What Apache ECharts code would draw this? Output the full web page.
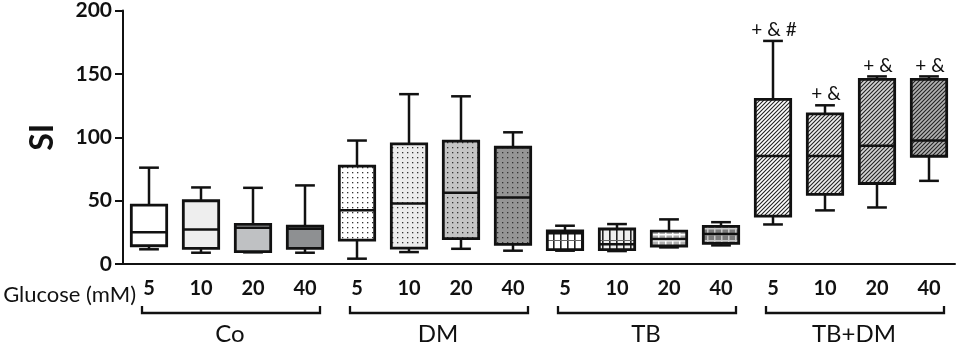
<!DOCTYPE html>
<html>
<head>
<meta charset="utf-8">
<script src="https://cdn.jsdelivr.net/npm/echarts@6/dist/echarts.min.js"></script>
<style>
  html, body { margin: 0; padding: 0; background: #fff; }
  #main { width: 957px; height: 345px; }
</style>
</head>
<body>
<div id="main"></div>
<script>
// glucose concentrations (mM), four per group
const categories = ['5', '10', '20', '40', '5', '10', '20', '40', '5', '10', '20', '40', '5', '10', '20', '40'];
const groups = ['Co', 'DM', 'TB', 'TB+DM'];
const yTicks = [0, 50, 100, 150, 200];

// each box: [low, q1, median, q3, high]
const coBoxes = [
  [11.6, 14.4, 25.0, 46.5, 76.0],
  [8.9, 12.3, 27.3, 49.9, 60.4],
  [9.2, 9.7, 28.6, 31.2, 60.1],
  [8.9, 12.3, 27.8, 29.9, 62.0]
];
const dmBoxes = [
  [4.2, 18.9, 42.5, 77.2, 97.4],
  [9.4, 12.6, 47.8, 94.7, 134.0],
  [12.0, 20.0, 56.2, 96.9, 132.3],
  [10.5, 15.5, 52.5, 92.1, 103.9]
];
const tbBoxes = [
  [10.5, 11.3, 24.2, 26.2, 30.2],
  [10.2, 11.3, 15.5, 27.6, 31.5],
  [13.1, 14.2, 19.7, 26.0, 35.2],
  [14.7, 16.3, 23.6, 29.7, 33.0]
];
const tbdmBoxes = [
  [31.2, 37.8, 85.3, 129.9, 176.0],
  [42.3, 54.9, 85.3, 118.4, 125.2],
  [44.6, 63.5, 93.2, 145.7, 148.0],
  [65.6, 85.0, 97.4, 145.7, 148.0]
];
// significance marks above each box
const marks = ['', '', '', '', '', '', '', '', '', '', '', '', '+ & #', '+ &', '+ &', '+ &'];

const FONT = 'Lato';
const INK = '#111';

// fill patterns
function tile(w, h, draw) {
  const c = document.createElement('canvas');
  c.width = w; c.height = h;
  draw(c.getContext('2d'), w, h);
  return { image: c, repeat: 'repeat' };
}
function solid(bg) { return bg; }
function dots(bg) {
  return tile(5, 5, (g, w, h) => {
    g.fillStyle = bg; g.fillRect(0, 0, w, h);
    g.fillStyle = '#333'; g.fillRect(2, 2, 1.3, 1.3);
  });
}
function vlines(bg) {
  return tile(7, 16, (g, w, h) => {
    g.fillStyle = bg; g.fillRect(0, 0, w, h);
    g.fillStyle = '#222'; g.fillRect(0, 0, 1.6, h);
    g.fillStyle = '#666'; g.fillRect(0, 0, w, 1);
  });
}
function grid(bg, line) {
  return tile(7, 6, (g, w, h) => {
    g.fillStyle = line; g.fillRect(0, 0, w, h);
    g.fillStyle = bg; g.fillRect(1.5, 1.5, w - 1.5, h - 1.5);
  });
}
function hatch(bg) {
  return tile(4, 4, (g, w, h) => {
    g.fillStyle = bg; g.fillRect(0, 0, w, h);
    g.strokeStyle = '#222'; g.lineWidth = 1.1;
    g.beginPath();
    g.moveTo(-1, h + 1); g.lineTo(w + 1, -1);
    g.moveTo(-1, 1); g.lineTo(1, -1);
    g.moveTo(w - 1, h + 1); g.lineTo(w + 1, h - 1);
    g.stroke();
  });
}
const boxFills = [
  solid('#ffffff'), solid('#eeeeee'), solid('#bfc1c3'), solid('#8e9092'),
  dots('#ffffff'), dots('#ececec'), dots('#c4c4c4'), dots('#959595'),
  vlines('#ffffff'), vlines('#eeeeee'), grid('#b0b0b0', '#ffffff'), grid('#7a7a7a', '#c8c8c8'),
  hatch('#ffffff'), hatch('#eeeeee'), hatch('#d4d4d4'), hatch('#b2b2b2')
];

const boxes = [...coBoxes, ...dmBoxes, ...tbBoxes, ...tbdmBoxes].map((b, i) => [i, ...b]);

function renderBox(params, api) {
  const i = api.value(0);
  const low = api.coord([i, api.value(1)]);
  const q1 = api.coord([i, api.value(2)]);
  const med = api.coord([i, api.value(3)]);
  const q3 = api.coord([i, api.value(4)]);
  const high = api.coord([i, api.value(5)]);
  const band = api.size([1, 0])[0];
  const bw = band * 0.68, cw = band * 0.38;
  const cx = low[0];
  const ln = { stroke: INK, lineWidth: 2.5 };
  const children = [
    { type: 'line', shape: { x1: cx, y1: high[1], x2: cx, y2: q3[1] }, style: ln },
    { type: 'line', shape: { x1: cx, y1: q1[1], x2: cx, y2: low[1] }, style: ln },
    { type: 'line', shape: { x1: cx - cw / 2, y1: high[1], x2: cx + cw / 2, y2: high[1] }, style: ln },
    { type: 'line', shape: { x1: cx - cw / 2, y1: low[1], x2: cx + cw / 2, y2: low[1] }, style: ln },
    {
      type: 'rect',
      shape: { x: cx - bw / 2, y: q3[1], width: bw, height: q1[1] - q3[1] },
      style: { fill: boxFills[params.dataIndex], stroke: INK, lineWidth: 2.8 }
    },
    { type: 'line', shape: { x1: cx - bw / 2, y1: med[1], x2: cx + bw / 2, y2: med[1] }, style: { stroke: INK, lineWidth: 2.5 } }
  ];
  const mark = marks[params.dataIndex];
  if (mark) {
    children.push({
      type: 'text',
      style: {
        x: cx + 1, y: high[1] - 11, text: mark,
        align: 'center', verticalAlign: 'middle',
        font: '19px ' + FONT, fill: INK
      }
    });
  }
  return { type: 'group', children };
}

const chart = echarts.init(document.getElementById('main'));
chart.setOption({
  animation: false,
  backgroundColor: '#fff',
  grid: { left: 123, right: 2, top: 10, bottom: 81 },
  xAxis: {
    type: 'category',
    data: categories,
    axisLine: { lineStyle: { color: INK, width: 2 } },
    axisTick: { alignWithLabel: true, length: 11, lineStyle: { color: INK, width: 2 } },
    axisLabel: { margin: 15, color: INK, fontFamily: FONT, fontWeight: 'bold', fontSize: 20, interval: 0 },
    splitLine: { show: false }
  },
  yAxis: {
    type: 'value',
    min: yTicks[0],
    max: yTicks[yTicks.length - 1],
    interval: yTicks[1] - yTicks[0],
    name: 'SI',
    nameLocation: 'middle',
    nameGap: 64,
    nameTextStyle: { color: INK, fontFamily: FONT, fontWeight: 'bold', fontSize: 32 },
    axisLine: { show: true, lineStyle: { color: INK, width: 2 } },
    axisTick: { show: true, length: 8, lineStyle: { color: INK, width: 2 } },
    axisLabel: { margin: 11, color: INK, fontFamily: FONT, fontWeight: 'bold', fontSize: 21 },
    splitLine: { show: false }
  },
  series: [{
    type: 'custom',
    renderItem: renderBox,
    encode: { x: 0, y: [1, 2, 3, 4, 5] },
    data: boxes
  }]
});

// group brackets and labels under the axis
const graphics = [{
  type: 'text',
  style: { x: 136, y: 295, text: 'Glucose (mM)', align: 'right', verticalAlign: 'middle', font: '22px ' + FONT, fill: INK }
}];
groups.forEach((name, gi) => {
  const x0 = chart.convertToPixel({ xAxisIndex: 0 }, gi * 4);
  const x1 = chart.convertToPixel({ xAxisIndex: 0 }, gi * 4 + 3);
  const l = x0 - 7, r = x1 + 15;
  graphics.push({
    type: 'polyline',
    shape: { points: [[l, 306], [l, 313], [r, 313], [r, 306]] },
    style: { stroke: INK, lineWidth: 2.3, fill: null }
  });
  graphics.push({
    type: 'text',
    style: { x: (x0 + x1) / 2 + 3, y: 334, text: name, align: 'center', verticalAlign: 'middle', font: '24px ' + FONT, fill: INK }
  });
});
chart.setOption({ graphic: graphics });
</script>
</body>
</html>
